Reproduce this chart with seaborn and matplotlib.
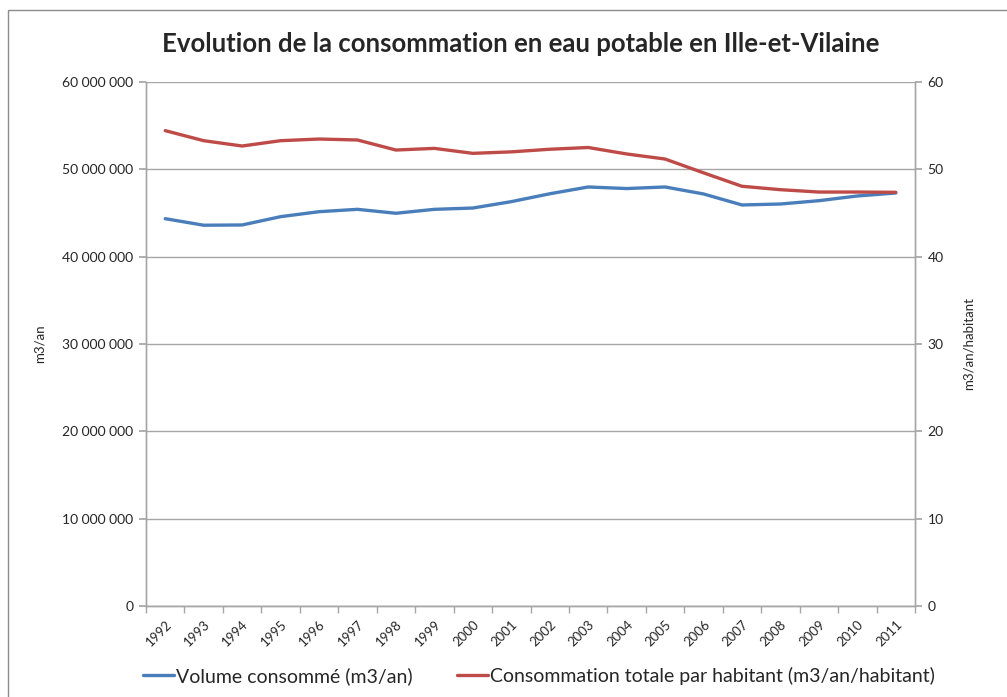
import matplotlib.pyplot as plt
import seaborn as sns
import pandas as pd
from matplotlib.patches import Rectangle
from matplotlib.ticker import FuncFormatter, MultipleLocator

annees = list(range(1992, 2012))
volume = [44.35, 43.6, 43.63, 44.58, 45.15, 45.42, 44.97, 45.42, 45.57, 46.3,
          47.2, 47.98, 47.8, 47.98, 47.18, 45.92, 46.03, 46.41, 46.95, 47.29]
volume = [v * 1e6 for v in volume]
par_hab = [54.43, 53.28, 52.67, 53.28, 53.47, 53.36, 52.21, 52.4, 51.83, 52.0,
           52.3, 52.5, 51.76, 51.18, 49.6, 48.06, 47.67, 47.4, 47.4, 47.37]

df = pd.DataFrame({"annee": annees, "volume": volume, "par_hab": par_hab})

BLEU = "#4a7ebb"
ROUGE = "#be4b48"
GRIS = "#a6a6a6"

sns.set_theme(style="white")
plt.rcParams["font.family"] = ["Lato", "DejaVu Sans"]

fig = plt.figure(figsize=(10.07, 6.97), dpi=100)
fig.patches.append(Rectangle((8 / 1007, -0.01), 1.1, 1 - 10 / 697 + 0.01,
                             transform=fig.transFigure, fill=False,
                             edgecolor="#8c8c8c", lw=1))
ax = fig.add_axes([146 / 1007, 1 - 606 / 697, 769 / 1007, 524 / 697])
ax2 = ax.twinx()

sns.lineplot(data=df, x="annee", y="volume", color=BLEU, lw=2.4, ax=ax,
             label="Volume consommé (m3/an)", legend=False)
sns.lineplot(data=df, x="annee", y="par_hab", color=ROUGE, lw=2.4, ax=ax2,
             label="Consommation totale par habitant (m3/an/habitant)", legend=False)

ax.set_xlim(1991.5, 2011.5)
ax.set_ylim(0, 60e6)
ax2.set_ylim(0, 60)
ax.yaxis.set_major_locator(MultipleLocator(10e6))
ax2.yaxis.set_major_locator(MultipleLocator(10))
ax.yaxis.set_major_formatter(FuncFormatter(lambda v, p: f"{v:,.0f}".replace(",", " ")))
ax.grid(axis="y", color=GRIS, lw=1)
ax.set_axisbelow(True)

ax.set_xticks(annees)
ax.set_xticklabels([str(a) for a in annees], rotation=45, ha="right",
                   rotation_mode="anchor", fontsize=9.5)
ax.set_xticks([a + 0.5 for a in range(1991, 2012)], minor=True)
ax.tick_params(axis="x", which="major", length=0, pad=9)
ax.tick_params(axis="x", which="minor", length=5, color=GRIS, width=1, direction="out", bottom=True)
ax.tick_params(axis="y", length=5, color=GRIS, direction="out", left=True, labelsize=10, pad=4)
ax2.tick_params(axis="y", length=5, color=GRIS, direction="out", right=True, labelsize=10, pad=4)

for a in (ax, ax2):
    a.spines["top"].set_visible(False)
    for s in ("left", "right", "bottom"):
        a.spines[s].set_color(GRIS)
        a.spines[s].set_linewidth(1)

ax.set_xlabel("")
ax.set_ylabel("m3/an", fontsize=9.5, labelpad=12)
ax2.set_ylabel("m3/an/habitant", fontsize=9.5, labelpad=14)

fig.text(0.517, 1 - 44 / 697, "Evolution de la consommation en eau potable en Ille-et-Vilaine",
         ha="center", va="center", fontsize=18.5, fontweight="bold")

h1, l1 = ax.get_legend_handles_labels()
h2, l2 = ax2.get_legend_handles_labels()
fig.legend(h1 + h2, l1 + l2, loc="center", bbox_to_anchor=(0.535, 1 - 676 / 697),
           ncol=2, frameon=False, fontsize=14, handlelength=1.6, handletextpad=0.1,
           columnspacing=2.3)

fig.savefig("out.png", dpi=100)
